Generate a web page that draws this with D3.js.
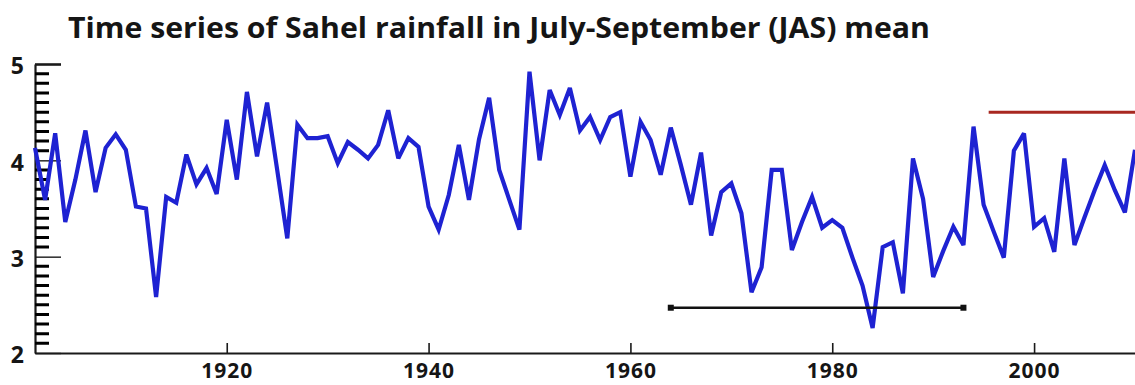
<!DOCTYPE html>
<html>
<head>
<meta charset="utf-8">
<script src="https://cdn.jsdelivr.net/npm/d3@7"></script>
<style>
  html, body { margin: 0; padding: 0; background: #fff; }
  svg { display: block; }
  text { font-family: "Open Sans", "DejaVu Sans", sans-serif; font-weight: 700; fill: #151515; }
</style>
</head>
<body>
<svg id="chart" width="1135" height="385"></svg>
<script>
// Sahel JAS rainfall, one value per year starting in 1901
const firstYear = 1901;
const rainfall = [
  4.13, 3.59, 4.28, 3.36, 3.80, 4.31, 3.67, 4.13, 4.27, 4.11,
  3.52, 3.50, 2.58, 3.62, 3.56, 4.06, 3.75, 3.92, 3.65, 4.42,
  3.80, 4.71, 4.04, 4.60, 3.90, 3.19, 4.37, 4.23, 4.23, 4.25,
  3.97, 4.19, 4.11, 4.02, 4.16, 4.52, 4.02, 4.23, 4.14, 3.52,
  3.28, 3.64, 4.16, 3.59, 4.22, 4.65, 3.90, 3.59, 3.28, 4.92,
  4.00, 4.73, 4.47, 4.75, 4.31, 4.45, 4.21, 4.45, 4.50, 3.83,
  4.40, 4.21, 3.85, 4.34, 3.95, 3.54, 4.08, 3.22, 3.67, 3.76,
  3.45, 2.63, 2.89, 3.90, 3.90, 3.07, 3.36, 3.62, 3.30, 3.38,
  3.30, 2.99, 2.70, 2.26, 3.10, 3.15, 2.62, 4.02, 3.60, 2.79,
  3.06, 3.31, 3.12, 4.35, 3.54, 3.26, 2.99, 4.10, 4.28, 3.31,
  3.40, 3.05, 4.02, 3.12, 3.41, 3.69, 3.95, 3.69, 3.46, 4.11
];
const years = rainfall.map((_, i) => firstYear + i);

// Axis ticks
const xTickYears = [1920, 1940, 1960, 1980, 2000];
const yMajorTicks = [2, 3, 4, 5];
const yMinorTicks = [2.1, 2.2, 2.3, 2.4, 2.5, 2.6, 2.7, 2.8, 2.9,
                     3.1, 3.2, 3.3, 3.4, 3.5, 3.6, 3.7, 3.8, 3.9,
                     4.1, 4.2, 4.3, 4.4, 4.5, 4.6, 4.7, 4.8, 4.9];

// Reference bars: dry-period span and recent level
const dryPeriod = { years: [1964, 1993], level: 2.47 };
const recentLevel = { years: [1995.5, 2010], level: 4.5 };

const title = "Time series of Sahel rainfall in July-September (JAS) mean";

const svg = d3.select("#chart");
const x = d3.scaleLinear().domain([1901, 2010]).range([35, 1135]);
const y = d3.scaleLinear().domain([2, 5]).range([353, 64]);

// Title
svg.append("text")
  .attr("x", 68).attr("y", 38)
  .attr("font-size", 28)
  .attr("textLength", 862)
  .attr("lengthAdjust", "spacingAndGlyphs")
  .text(title);

// Y axis: major ticks with labels
const yMajor = svg.append("g").attr("transform", "translate(35,0)")
  .call(d3.axisLeft(y).tickValues(yMajorTicks).tickSize(-26).tickSizeOuter(0).tickPadding(11).tickFormat(d3.format("d")));
yMajor.select(".domain").attr("stroke", "#1a1a1a").attr("stroke-width", 2.2);
yMajor.selectAll(".tick line").attr("stroke", "#1a1a1a").attr("stroke-width", d => d === 5 ? 2.6 : 1.4);
yMajor.selectAll(".tick text")
  .attr("font-size", 23).attr("dy", "0.42em")
  .style("font-family", "'Open Sans', sans-serif").style("font-weight", 700).attr("fill", "#151515");

// X axis
const xAxis = svg.append("g").attr("transform", "translate(0,353)")
  .call(d3.axisBottom(x).tickValues(xTickYears).tickSize(-10).tickSizeOuter(0).tickPadding(10).tickFormat(d3.format("d")));
xAxis.select(".domain").attr("stroke", "#1a1a1a").attr("stroke-width", 2.2);
xAxis.selectAll(".tick line").attr("stroke", "#1a1a1a").attr("stroke-width", 1.6);
xAxis.selectAll(".tick text")
  .attr("font-size", 21).attr("dy", "0.71em")
  .attr("letter-spacing", 1)
  .style("font-family", "'Open Sans', sans-serif").style("font-weight", 700).attr("fill", "#151515");

// Y axis: short inward minor ticks every 0.1, drawn beneath the series
const comb = d3.path();
yMinorTicks.forEach(v => {
  comb.moveTo(35, y(v));
  comb.lineTo(49, y(v));
});
svg.append("path")
  .attr("d", comb.toString())
  .attr("fill", "none")
  .attr("stroke", "#000")
  .attr("stroke-width", 3);

// Rainfall series
const line = d3.line().x((d, i) => x(years[i])).y(d => y(d));
svg.append("path")
  .datum(rainfall)
  .attr("fill", "none")
  .attr("stroke", "#1e22d2")
  .attr("stroke-width", 4.2)
  .attr("stroke-linejoin", "miter")
  .attr("stroke-miterlimit", 3)
  .attr("d", line);

// Dry-period bar with square end caps
svg.append("line")
  .attr("x1", x(dryPeriod.years[0])).attr("x2", x(dryPeriod.years[1]))
  .attr("y1", y(dryPeriod.level)).attr("y2", y(dryPeriod.level))
  .attr("stroke", "#111").attr("stroke-width", 2.6);
svg.append("g")
  .selectAll("rect")
  .data(dryPeriod.years)
  .join("rect")
  .attr("x", d => x(d) - 3).attr("y", y(dryPeriod.level) - 3)
  .attr("width", 6).attr("height", 6)
  .attr("fill", "#111");

// Recent level bar
svg.append("line")
  .attr("x1", x(recentLevel.years[0])).attr("x2", x(recentLevel.years[1]))
  .attr("y1", y(recentLevel.level)).attr("y2", y(recentLevel.level))
  .attr("stroke", "#a82820").attr("stroke-width", 3);
</script>
</body>
</html>
